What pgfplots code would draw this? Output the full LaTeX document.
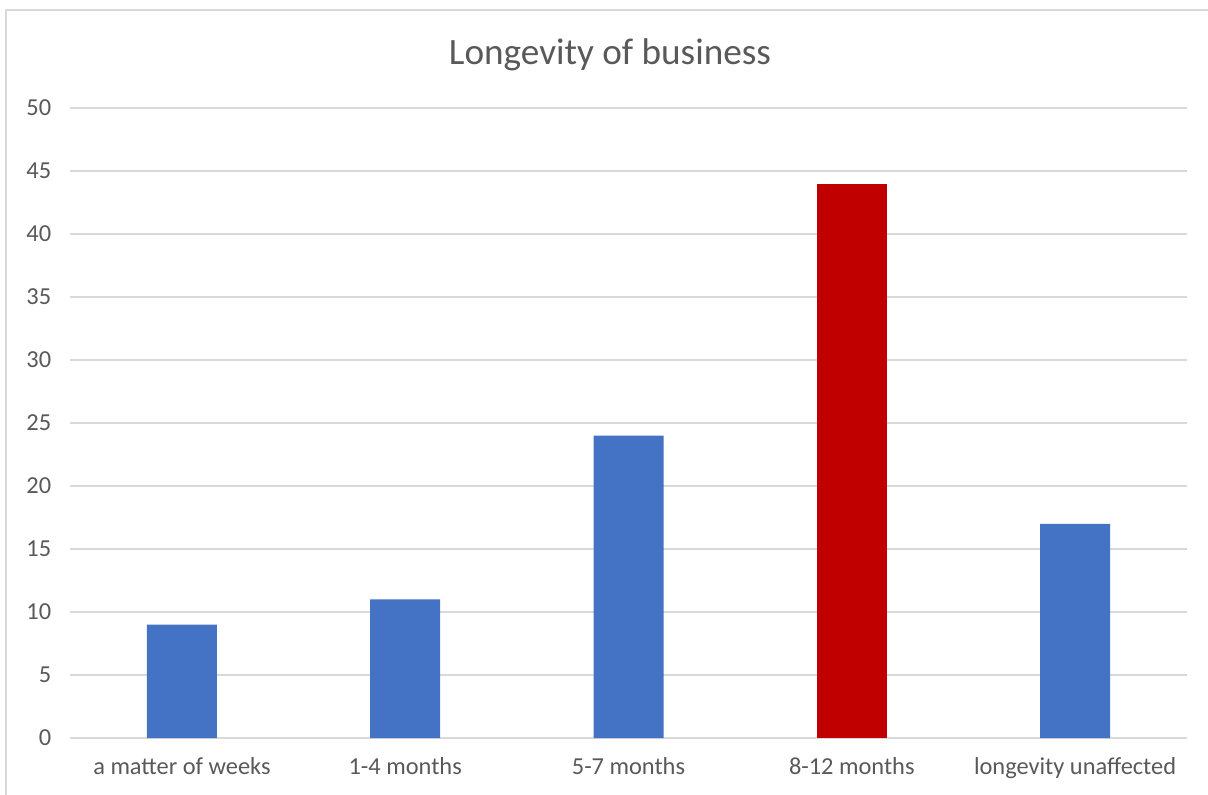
\documentclass[border=0pt]{standalone}
\usepackage{pgfplots}
\pgfplotsset{compat=1.18}
\usepackage{fontspec}
\setmainfont{Carlito}
\definecolor{txt}{HTML}{595959}
\definecolor{gridc}{HTML}{D9D9D9}
\definecolor{frame}{HTML}{D9D9D9}
\definecolor{barblue}{HTML}{4472C4}
\definecolor{barred}{HTML}{C00000}
\begin{document}
\begin{tikzpicture}
% canvas of 1208 x 794 units at 0.5pt each
\path[use as bounding box] (0pt,0pt) rectangle (604pt,397pt);
\draw[frame, line width=1pt] (3pt,-10pt) -- (3pt,392pt) -- (615pt,392pt);
\node[txt, font=\fontsize{18.6}{22}\selectfont] at (305pt,369.5pt) {Longevity of business};
\begin{axis}[
  at={(35.15pt,28pt)}, anchor=south west,
  scale only axis,
  width=558.2pt, height=315pt,
  xmin=-0.5, xmax=4.5, ymin=0, ymax=50,
  axis line style={draw=none},
  ytick={0,5,...,50},
  xtick={0,1,2,3,4},
  xticklabels={a matter of weeks,1-4 months,5-7 months,8-12 months,longevity unaffected},
  ymajorgrids,
  grid style={gridc, line width=1pt},
  major tick length=0pt,
  tick label style={txt, font=\fontsize{12.2}{14}\selectfont},
  yticklabel style={xshift=-6pt},
  xticklabel style={yshift=-6pt},
  /pgf/number format/assume math mode=true,
  ybar, bar width=35pt, bar shift=0pt,
]
\addplot[fill=barblue, draw=none] coordinates {(0,9) (1,11) (2,24) (4,17)};
\addplot[fill=barred, draw=none] coordinates {(3,44)};
\end{axis}
\end{tikzpicture}
\end{document}
